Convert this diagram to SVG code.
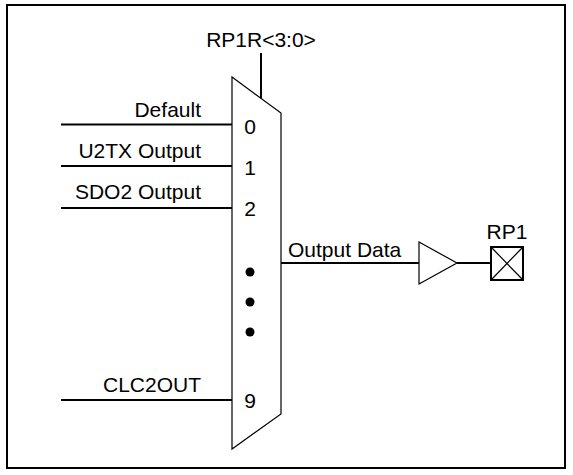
<svg xmlns="http://www.w3.org/2000/svg" width="573" height="475" viewBox="0 0 573 475">
  <style>
    text { font-family: "Liberation Sans", Arial, sans-serif; font-size: 21px; fill: #000; }
    .lbl { text-anchor: end; }
    .num { text-anchor: middle; }
    .wire { stroke: #000; stroke-width: 2; fill: none; }
    .thin { stroke: #000; stroke-width: 1.2; fill: none; }
  </style>
  <rect x="7" y="5" width="558" height="463" fill="#fff" stroke="#000" stroke-width="2"/>
  <g id="connectors">
    <line class="wire" x1="261" y1="53" x2="261" y2="98"/>
    <line class="wire" x1="61" y1="124.5" x2="232" y2="124.5"/>
    <line class="wire" x1="61" y1="166" x2="232" y2="166"/>
    <line class="wire" x1="61" y1="208" x2="232" y2="208"/>
    <line class="wire" x1="61" y1="400" x2="232" y2="400"/>
    <line class="wire" x1="281" y1="263" x2="419" y2="263"/>
    <line class="wire" x1="457" y1="263" x2="491" y2="263"/>
  </g>
  <g id="mux">
    <polygon class="thin" points="232,77 281,113 281,414 232,449"/>
    <text class="num" x="250" y="134">0</text>
    <text class="num" x="250" y="175">1</text>
    <text class="num" x="250" y="216">2</text>
    <text class="num" x="250" y="408">9</text>
    <circle cx="250" cy="272" r="4.5"/>
    <circle cx="250" cy="302" r="4.5"/>
    <circle cx="250" cy="332" r="4.5"/>
  </g>
  <g id="sel-label"><text x="261" y="47" class="num">RP1R&lt;3:0&gt;</text></g>
  <g id="in-default"><text class="lbl" x="201" y="117">Default</text></g>
  <g id="in-u2tx"><text class="lbl" x="201" y="158">U2TX Output</text></g>
  <g id="in-sdo2"><text class="lbl" x="201" y="199">SDO2 Output</text></g>
  <g id="in-clc2out"><text class="lbl" x="201" y="392">CLC2OUT</text></g>
  <g id="out-label"><text x="288" y="257">Output Data</text></g>
  <g id="buffer">
    <polygon class="thin" points="419,242 457,263 419,284"/>
  </g>
  <g id="rp1">
    <rect x="491" y="247" width="32" height="33" fill="#fff" stroke="#000" stroke-width="2"/>
    <line class="thin" x1="491" y1="247" x2="523" y2="280"/>
    <line class="thin" x1="523" y1="247" x2="491" y2="280"/>
    <text class="num" x="507" y="239">RP1</text>
  </g>
</svg>
